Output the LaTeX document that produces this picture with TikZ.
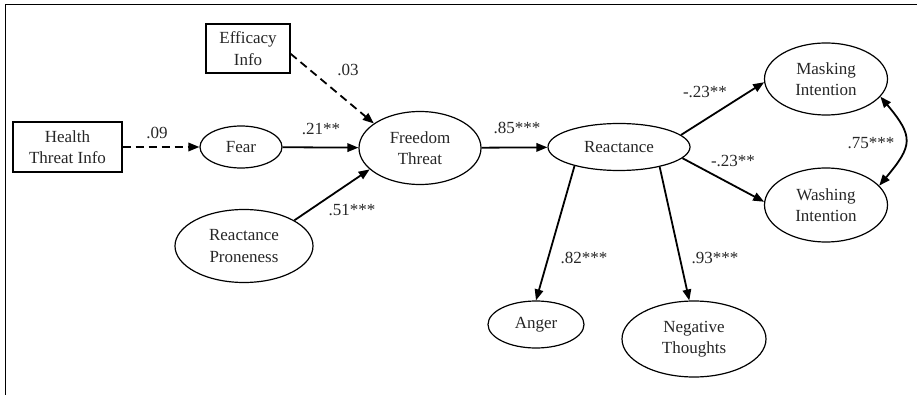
\documentclass[tikz,border=0pt]{standalone}
\usepackage{fontspec}
\setmainfont{Liberation Serif}
\usetikzlibrary{shapes.geometric,arrows.meta}
\begin{document}
\begin{tikzpicture}[x=1pt,y=-1pt,
  every node/.style={font=\fontsize{17}{21.5}\selectfont, text=black!85, inner sep=0pt},
  boxnode/.style={draw, line width=1.1pt, rectangle, align=center},
  ell/.style={draw, line width=1.2pt, ellipse, align=center},
  arr/.style={line width=1.8pt, -{Triangle[length=11pt,width=8.5pt]}},
  darr/.style={arr, dash pattern=on 8pt off 5pt},
  lbl/.style={anchor=center}]
\useasboundingbox (0,0) rectangle (917,395);
\draw[line width=1.6pt] (5.5,395) -- (5.5,4.5) -- (917,4.5);
% nodes
\node[boxnode, minimum width=109pt, minimum height=50pt] (health) at (67.5,147) {Health\\Threat Info};
\node[boxnode, minimum width=84pt, minimum height=49pt] (eff) at (248,48.5) {Efficacy\\Info};
\node[ell, minimum width=82pt, minimum height=42pt] (fear) at (241,147) {Fear};
\node[ell, minimum width=122pt, minimum height=73pt] (ft) at (420,148) {Freedom\\Threat};
\node[ell, minimum width=138pt, minimum height=73pt] (prone) at (244,246) {Reactance\\Proneness};
\node[ell, minimum width=142pt, minimum height=47pt] (react) at (619,147) {Reactance};
\node[ell, minimum width=123pt, minimum height=72pt] (mask) at (826,79) {Masking\\Intention};
\node[ell, minimum width=123pt, minimum height=74pt] (wash) at (826,205) {Washing\\Intention};
\node[ell, minimum width=96pt, minimum height=47pt] (anger) at (536,324.5) {Anger};
\node[ell, minimum width=144pt, minimum height=76pt] (neg) at (694,339) {Negative\\Thoughts};
% connectors
\draw[darr] (health) -- (fear);
\draw[darr] (eff.-7) -- (ft.152);
\draw[arr] (fear) -- (ft);
\draw[arr] (prone.27) -- (ft.203);
\draw[arr] (ft) -- (react);
\draw[arr] (react.11) -- (mask.183);
\draw[arr] (react.-10.5) -- (wash.177);
\draw[arr] (react.203) -- (anger.north);
\draw[arr] (react.-26.6) -- (neg.97);
\draw[line width=1.8pt, {Triangle[length=11pt,width=8.5pt]}-{Triangle[length=11pt,width=8.5pt]}] (mask.-18) to[out=-50,in=50,looseness=1.5] (wash.20);
% labels
\node[lbl] (l1) at (157,133) {.09};
\node[lbl] (l2) at (348,70) {.03};
\node[lbl] (l3) at (321,129) {.21**};
\node[lbl] (l4) at (352,210) {.51***};
\node[lbl] (l5) at (517,128) {.85***};
\node[lbl] (l6) at (705,92) {-.23**};
\node[lbl] (l7) at (733,161) {-.23**};
\node[lbl] (l8) at (871,143) {.75***};
\node[lbl] (l9) at (584,258) {.82***};
\node[lbl] (l10) at (715,258) {.93***};
\end{tikzpicture}
\end{document}
